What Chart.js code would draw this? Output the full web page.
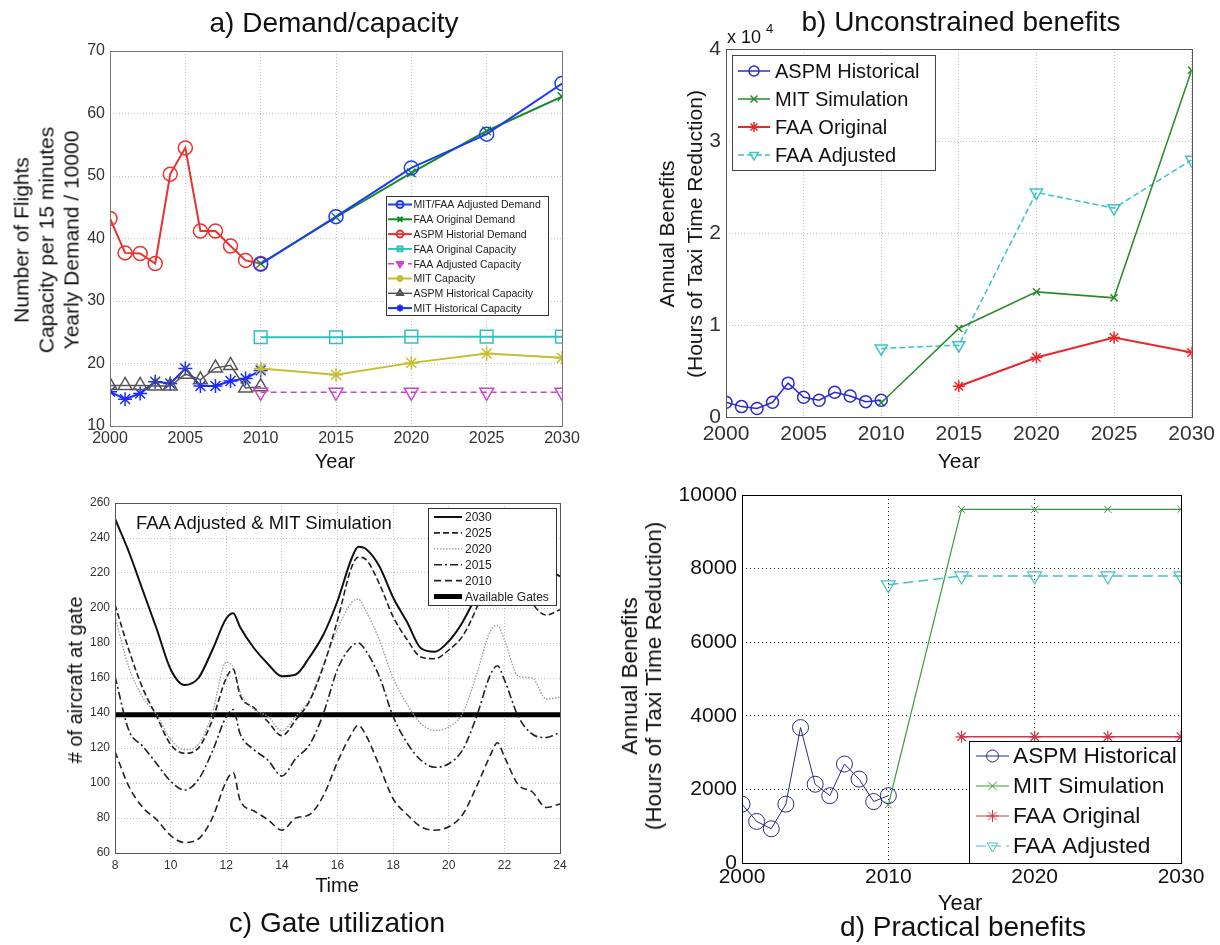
<!DOCTYPE html>
<html lang="en">
<head>
<meta charset="UTF-8">
<title>Demand, benefits and gate utilization</title>
<script src="https://cdn.jsdelivr.net/npm/chart.js"></script>
<style>
  body { margin: 0; background: #fff; }
  #page { position: relative; width: 1220px; height: 945px; overflow: hidden;
          font-family: "Liberation Sans", Arial, sans-serif; color: #111; }
  canvas { position: absolute; }
  .t { position: absolute; white-space: nowrap; line-height: 1; }
  .rot { position: absolute; white-space: nowrap; text-align: center;
         transform: translate(-50%, -50%) rotate(-90deg); }
</style>
</head>
<body>
<div id="page">
  <canvas id="chartA" width="600" height="470" style="left:0;top:0"></canvas>
  <canvas id="chartB" width="620" height="470" style="left:600px;top:0"></canvas>
  <canvas id="chartC" width="600" height="475" style="left:0;top:470px"></canvas>
  <canvas id="chartD" width="620" height="475" style="left:600px;top:470px"></canvas>
</div>

<script>
  // ---- data ----
  const histYears = [2000, 2001, 2002, 2003, 2004, 2005, 2006, 2007, 2008, 2009, 2010];
  const projYears = [2010, 2015, 2020, 2025, 2030];
  const faaYears = [2015, 2020, 2025, 2030];

  // a) demand / capacity
  const aspmDemand = [43.2, 37.7, 37.6, 36.0, 50.3, 54.5, 41.2, 41.2, 38.8, 36.5, 36.0];
  const adjDemand = [35.9, 43.5, 51.3, 56.7, 64.8];
  const faaOrigDemand = [36.0, 43.4, 50.5, 57.2, 62.7];
  const faaOrigCap = [24.2, 24.2, 24.3, 24.3, 24.3];
  const faaAdjCap = [15.4, 15.4, 15.4, 15.4, 15.4];
  const mitCap = [19.2, 18.2, 20.1, 21.6, 20.9];
  const aspmHistCap = [16.5, 16.5, 16.5, 16.4, 16.4, 18.3, 17.4, 19.3, 19.7, 16.1, 16.3];
  const mitHistCap = [15.5, 14.3, 15.2, 17.1, 16.8, 19.2, 16.4, 16.4, 17.2, 17.6, 18.9];

  // b) unconstrained benefits (hours)
  const aspmHours = [1600, 1130, 930, 1600, 3680, 2140, 1830, 2690, 2280, 1670, 1830];
  const mitUnconstr = [1550, 9620, 13600, 12950, 37700];
  const faaOrigUnconstr = [3340, 6460, 8640, 7000];
  const faaAdjUnconstr = [7450, 7800, 24400, 22700, 27950];

  // c) gate utilization
  const hoursC = [8, 8.5, 9, 9.5, 10, 10.5, 11, 11.5, 12, 12.25, 12.5, 13, 13.5, 14, 14.5, 15, 15.5, 16,
                  16.5, 16.75, 17, 17.5, 18, 18.5, 19, 19.5, 20, 20.5, 21, 21.5, 21.75, 22, 22.5, 23, 23.5, 24];
  const gates2030 = [251, 232, 210, 188, 165, 156, 160, 176, 194, 197, 189, 177, 168, 161, 162, 172, 185, 204,
                     228, 235, 234, 224, 206, 192, 177, 175, 181, 192, 208, 230, 240, 243, 238, 230, 223, 218];
  const gates2025 = [202, 176, 154, 138, 122, 117, 120, 136, 160, 165, 150, 143, 135, 127, 136, 147, 167, 193,
                     223, 229, 228, 214, 195, 182, 172, 171, 176, 184, 200, 222, 232, 234, 220, 203, 196, 199];
  const gates2020 = [195, 166, 149, 139, 125, 119, 122, 140, 169, 166, 152, 142, 138, 130, 138, 148, 168, 188,
                     203, 205, 199, 182, 160, 145, 134, 130, 132, 140, 162, 187, 190, 182, 161, 160, 148, 149];
  const gates2015 = [161, 130, 121, 111, 101, 96, 102, 118, 138, 142, 128, 119, 113, 104, 114, 122, 140, 165,
                     178, 180, 176, 161, 138, 123, 113, 109, 111, 119, 138, 162, 167, 159, 138, 128, 126, 129];
  const gates2010 = [118, 98, 86, 79, 70, 66, 68, 80, 101, 106, 90, 84, 79, 73, 80, 82, 93, 112,
                     128, 133, 128, 110, 91, 82, 75, 73, 75, 82, 98, 116, 123, 115, 99, 95, 86, 88];
  const gateSpan = [8, 24];
  const availableGates = [139, 139];

  // d) practical benefits
  const mitPractical = [1580, 9610, 9610, 9610, 9610];
  const faaOrigPractical = [3430, 3430, 3430, 3430];
  const faaAdjPractical = [7560, 7800, 7800, 7800, 7800];

  // ---- helpers ----
  const FONT = '"Liberation Sans", Arial, sans-serif';
  Chart.defaults.font.family = FONT;
  Chart.defaults.color = '#222';

  const pts = (xs, ys) => xs.map((x, i) => ({ x: x, y: ys[i] }));

  function series(label, xs, ys, color, style, r, extra) {
    return Object.assign({
      label: label, data: pts(xs, ys),
      borderColor: color, backgroundColor: color,
      pointBorderColor: color, pointBackgroundColor: 'rgba(0,0,0,0)',
      pointStyle: style, pointRadius: r, pointBorderWidth: 1.5,
      borderWidth: 2, tension: 0, fill: false
    }, extra || {});
  }

  function axis(min, max, step, size, pad, fit, look, fmt) {
    return {
      type: 'linear', min: min, max: max,
      ticks: { stepSize: step, font: { size: size }, color: look.tick, padding: pad, autoSkip: false,
               maxRotation: 0, callback: fmt || (v => String(v)) },
      grid: { color: look.grid, lineWidth: 1, drawTicks: false },
      border: { display: false, dash: look.dash },
      afterFit: fit
    };
  }

  function drawMarker(ctx, style, x, y, r, rot) {
    ctx.beginPath();
    if (style === 'circle') {
      ctx.arc(x, y, r, 0, Math.PI * 2);
    } else if (style === 'rect') {
      const s = r * 0.707;
      ctx.rect(x - s, y - s, 2 * s, 2 * s);
    } else if (style === 'triangle') {
      const k = rot ? -1 : 1;
      ctx.moveTo(x, y - k * r);
      ctx.lineTo(x + r * 0.866, y + k * r * 0.5);
      ctx.lineTo(x - r * 0.866, y + k * r * 0.5);
      ctx.closePath();
    } else if (style === 'crossRot' || style === 'star') {
      const d = r * 0.707;
      ctx.moveTo(x - d, y - d); ctx.lineTo(x + d, y + d);
      ctx.moveTo(x + d, y - d); ctx.lineTo(x - d, y + d);
      if (style === 'star') {
        ctx.moveTo(x - r, y); ctx.lineTo(x + r, y);
        ctx.moveTo(x, y - r); ctx.lineTo(x, y + r);
      }
    }
    ctx.stroke();
  }

  // axes box + MATLAB-style legend drawn inside the plot
  const panelDecor = {
    id: 'panelDecor',
    afterDatasetsDraw(chart, args, opts) {
      const { ctx, chartArea: a } = chart;
      ctx.save();
      ctx.strokeStyle = opts.frame || '#000';
      ctx.lineWidth = 1;
      ctx.setLineDash([]);
      ctx.strokeRect(Math.round(a.left) + 0.5, Math.round(a.top) + 0.5,
                     Math.round(a.right - a.left), Math.round(a.bottom - a.top));
      const lg = opts.legend;
      if (lg) {
        ctx.fillStyle = '#fff';
        ctx.fillRect(lg.x, lg.y, lg.w, lg.h);
        ctx.strokeStyle = lg.border || '#000';
        ctx.strokeRect(lg.x + 0.5, lg.y + 0.5, lg.w, lg.h);
        ctx.beginPath();
        ctx.rect(lg.x, lg.y, lg.w - (lg.clipIn || 2), lg.h);
        ctx.clip();
        ctx.font = lg.size + 'px ' + FONT;
        ctx.textBaseline = 'middle';
        chart.data.datasets.forEach((ds, i) => {
          const y = lg.rowY + i * lg.rowH;
          ctx.strokeStyle = ds.borderColor;
          ctx.lineWidth = lg.lineW || ds.borderWidth;
          ctx.setLineDash(ds.borderDash || []);
          ctx.beginPath();
          ctx.moveTo(lg.lx1, y);
          ctx.lineTo(lg.lx2, y);
          ctx.stroke();
          ctx.setLineDash([]);
          if (ds.pointRadius > 0) {
            ctx.lineWidth = lg.markW || 1.5;
            drawMarker(ctx, ds.pointStyle, (lg.lx1 + lg.lx2) / 2, y, lg.markR || ds.pointRadius, ds.pointRotation);
          }
          ctx.fillStyle = lg.color || '#111';
          ctx.fillText(ds.label, lg.tx, y + 1);
        });
      }
      ctx.restore();
    }
  };

  function panelChart(id, cfg) {
    return new Chart(document.getElementById(id), {
      type: 'line',
      data: { datasets: cfg.datasets },
      options: {
        responsive: false, animation: false,
        layout: { padding: cfg.pad },
        plugins: { legend: { display: false }, tooltip: { enabled: false }, panelDecor: cfg.decor },
        scales: { x: cfg.x, y: cfg.y }
      },
      plugins: [panelDecor]
    });
  }

  const lightGrid = { tick: '#333', grid: '#c4c4c4', dash: [1, 2] };
  const darkGrid = { tick: '#111', grid: '#222', dash: [1, 3] };

  // ---- a) Demand/capacity ----
  panelChart('chartA', {
    pad: { left: 70, right: 38, top: 51, bottom: 14 },
    x: axis(2000, 2030, 5, 16, 3, s => { s.height = 30; }, lightGrid),
    y: axis(10, 70, 10, 16, 5, s => { s.width = 40; }, lightGrid),
    decor: {
      frame: '#777',
      legend: { x: 386, y: 196, w: 162, h: 119, size: 10.5, rowY: 204.5, rowH: 14.8,
                lx1: 388, lx2: 412, tx: 413.5, markR: 3.5, markW: 2, border: '#333', color: '#222' }
    },
    datasets: [
      series('MIT/FAA Adjusted Demand', projYears, adjDemand, '#1d3cf0', 'circle', 7),
      series('FAA Original Demand', projYears, faaOrigDemand, '#188a28', 'crossRot', 6),
      series('ASPM Historial Demand', histYears, aspmDemand, '#e8332f', 'circle', 7),
      series('FAA Original Capacity', projYears, faaOrigCap, '#30c0c0', 'rect', 9),
      series('FAA Adjusted Capacity', projYears, faaAdjCap, '#cc44cc', 'triangle', 8,
             { pointRotation: 180, borderDash: [6, 4], borderWidth: 1.5 }),
      series('MIT Capacity', projYears, mitCap, '#c4be30', 'star', 7),
      series('ASPM Historical Capacity', histYears, aspmHistCap, '#555555', 'triangle', 8, { borderWidth: 1.5 }),
      series('MIT Historical Capacity', histYears, mitHistCap, '#1a2cff', 'star', 7)
    ]
  });

  // ---- b) Unconstrained benefits ----
  panelChart('chartB', {
    pad: { left: 96, right: 25, top: 49, bottom: 23 },
    x: axis(2000, 2030, 5, 21, 5, s => { s.height = 30; }, lightGrid),
    y: axis(0, 40000, 10000, 21, 5, s => { s.width = 30; }, lightGrid, v => String(v / 10000)),
    decor: {
      frame: '#555',
      legend: { x: 132, y: 55, w: 203, h: 115, size: 20, rowY: 71, rowH: 28,
                lx1: 138, lx2: 170, tx: 175, markR: 5, border: '#444' }
    },
    datasets: [
      series('ASPM Historical', histYears, aspmHours, '#2b2bd0', 'circle', 6, { borderWidth: 1.5 }),
      series('MIT Simulation', projYears, mitUnconstr, '#2a8a2a', 'crossRot', 5, { borderWidth: 1.5 }),
      series('FAA Original', faaYears, faaOrigUnconstr, '#e8282a', 'star', 6),
      series('FAA Adjusted', projYears, faaAdjUnconstr, '#3cc4c4', 'triangle', 7,
             { pointRotation: 180, borderDash: [6, 3], borderWidth: 1.5 })
    ]
  });

  // ---- c) Gate utilization ----
  const curve = (label, ys, color, dash, w) => ({
    label: label, data: pts(hoursC, ys), borderColor: color, borderDash: dash, borderWidth: w,
    pointRadius: 0, fill: false, cubicInterpolationMode: 'monotone'
  });
  panelChart('chartC', {
    pad: { left: 85, right: 40, top: 33, bottom: 68 },
    x: axis(8, 24, 2, 12, 5, s => { s.height = 24; }, lightGrid),
    y: axis(60, 260, 20, 12, 5, s => { s.width = 30; }, lightGrid),
    decor: {
      frame: '#555',
      legend: { x: 428, y: 38, w: 128, h: 97, size: 12, rowY: 47, rowH: 15.9,
                lx1: 434, lx2: 462, tx: 465, border: '#333', color: '#222' }
    },
    datasets: [
      curve('2030', gates2030, '#111', [], 2),
      curve('2025', gates2025, '#222', [6, 3], 1.6),
      curve('2020', gates2020, '#9a9a9a', [1.5, 1.5], 1.3),
      curve('2015', gates2015, '#222', [8, 3, 2, 3], 1.6),
      curve('2010', gates2010, '#222', [7, 4], 1.6),
      { label: 'Available Gates', data: pts(gateSpan, availableGates), borderColor: '#000',
        borderWidth: 5, pointRadius: 0, fill: false }
    ]
  });

  // ---- d) Practical benefits ----
  panelChart('chartD', {
    pad: { left: 80, right: 39, top: 25, bottom: 52 },
    x: axis(2000, 2030, 10, 21, 2, s => { s.height = 30; }, darkGrid),
    y: axis(0, 10000, 2000, 21, 5, s => { s.width = 62; }, darkGrid),
    decor: {
      frame: '#000',
      legend: { x: 369, y: 271, w: 212, h: 122, size: 22.7, rowY: 286, rowH: 30,
                lx1: 376, lx2: 409, tx: 413, lineW: 1, markR: 6, markW: 1, clipIn: 5 }
    },
    datasets: [
      series('ASPM Historical', histYears, aspmHours, '#2a2a88', 'circle', 8, { borderWidth: 1, pointBorderWidth: 1 }),
      series('MIT Simulation', projYears, mitPractical, '#3a9a3a', 'crossRot', 5, { borderWidth: 1.2, pointBorderWidth: 1 }),
      series('FAA Original', faaYears, faaOrigPractical, '#c83a4a', 'star', 6, { borderWidth: 1.5, pointBorderWidth: 1.2 }),
      series('FAA Adjusted', projYears, faaAdjPractical, '#45c0c0', 'triangle', 8,
             { pointRotation: 180, borderDash: [10, 5], borderWidth: 1.5, pointBorderWidth: 1.2 })
    ]
  });

  // ---- titles and axis labels ----
  const page = document.getElementById('page');
  function text(str, x, base, size, align) {
    const d = document.createElement('div');
    d.className = 't';
    d.textContent = str;
    d.style.fontSize = size + 'px';
    d.style.top = (base - 0.846 * size) + 'px';
    d.style.left = x + 'px';
    if (align === 'center') d.style.transform = 'translateX(-50%)';
    page.appendChild(d);
  }
  function vtext(lines, cx, cy, size, lh) {
    const d = document.createElement('div');
    d.className = 'rot';
    lines.forEach((s, i) => {
      if (i) d.appendChild(document.createElement('br'));
      d.appendChild(document.createTextNode(s));
    });
    d.style.fontSize = size + 'px';
    d.style.lineHeight = lh + 'px';
    d.style.left = cx + 'px';
    d.style.top = cy + 'px';
    page.appendChild(d);
  }

  text('a) Demand/capacity', 334, 33, 28, 'center');
  text('Year', 335, 468, 20, 'center');
  vtext(['Number of Flights', 'Capacity per 15 minutes', 'Yearly Demand / 10000'], 46, 240, 21, 25);

  text('b) Unconstrained benefits', 961, 32, 28, 'center');
  text('x 10', 727, 43, 18);
  text('4', 766, 33, 13);
  text('Year', 959, 468, 21, 'center');
  vtext(['Annual Benefits', '(Hours of Taxi Time Reduction)'], 681, 234, 21, 28);

  text('FAA Adjusted & MIT Simulation', 136, 530, 18.5);
  text('Time', 337, 892, 20, 'center');
  vtext(['# of aircraft at gate'], 75, 680, 20, 24);
  text('c) Gate utilization', 337, 933, 28, 'center');

  text('Year', 960, 911, 22, 'center');
  vtext(['Annual Benefits', '(Hours of Taxi Time Reduction)'], 642, 676, 22.5, 24);
  text('d) Practical benefits', 963, 937, 28, 'center');
</script>
</body>
</html>
